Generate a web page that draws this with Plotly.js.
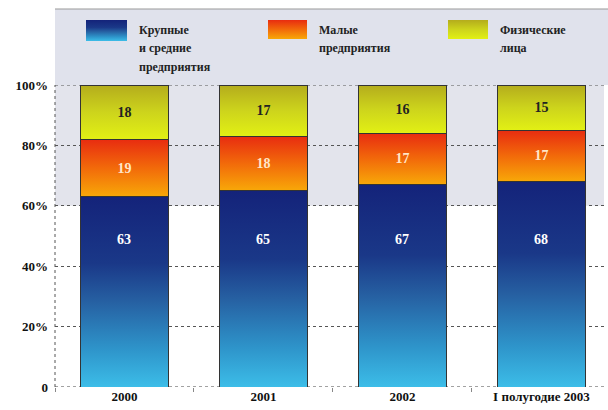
<!DOCTYPE html>
<html>
<head>
<meta charset="utf-8">
<script src="https://cdn.plot.ly/plotly-3.0.1.min.js"></script>
<style>
html,body{margin:0;padding:0;background:#fff;}
#chart{width:608px;height:410px;}
</style>
</head>
<body>
<div id="chart"></div>
<script>
// ---- data ----
const categories = ['2000', '2001', '2002', 'I полугодие 2003'];
const largeMedium = [63, 65, 67, 68];
const small = [19, 18, 17, 17];
const individuals = [18, 17, 16, 15];
const seriesNames = ['Крупные\nи средние\nпредприятия', 'Малые\nпредприятия', 'Физические\nлица'];
const yTickVals = [0, 20, 40, 60, 80, 100];
const yTickText = ['0', '20%', '40%', '60%', '80%', '100%'];

// ---- layout helpers ----
const W = 608, H = 410;
const M = {l: 55, r: 4, t: 85, b: 23};
const pw = W - M.l - M.r, ph = H - M.t - M.b;
const px = x => (x - M.l) / pw;
const py = y => (H - M.b - y) / ph;
const serif = 'Liberation Serif';

function barTrace(vals, name, txtColor, showText) {
  return {
    type: 'bar', x: categories, y: vals, name: name.replace(/\n/g, ' '),
    text: showText ? vals.map(String) : null,
    textposition: showText ? 'inside' : 'none',
    insidetextanchor: 'middle',
    constraintext: 'none',
    textangle: 0,
    textfont: {family: serif, size: 14, color: txtColor, weight: 'bold'},
    marker: {color: '#888', line: {color: '#333', width: 1}},
    hoverinfo: 'skip', showlegend: false
  };
}

const data = [
  barTrace(largeMedium, seriesNames[0], '#fff', false),
  barTrace(small, seriesNames[1], '#ffe6c8', true),
  barTrace(individuals, seriesNames[2], '#222', true)
];

const shapes = [
  {type: 'rect', xref: 'paper', yref: 'y', x0: 0, x1: 1, y0: 60, y1: 100, fillcolor: '#e3e4ec', line: {width: 0}, layer: 'below'},
  {type: 'rect', xref: 'paper', yref: 'paper', x0: 0, x1: px(W + 2), y0: 1, y1: py(9), fillcolor: '#e0e2ec', line: {width: 0}, layer: 'below'},
  {type: 'line', xref: 'paper', yref: 'paper', x0: 0, x1: 0, y0: 0, y1: 1, line: {color: '#555', width: 1, dash: 'dot'}, layer: 'below'},
  {type: 'rect', xref: 'paper', yref: 'paper', x0: px(86), x1: px(127), y0: py(41), y1: py(20), fillcolor: '#2a70b0', line: {width: 0}},
  {type: 'rect', xref: 'paper', yref: 'paper', x0: px(268), x1: px(307), y0: py(39), y1: py(20), fillcolor: '#f06010', line: {width: 0}},
  {type: 'rect', xref: 'paper', yref: 'paper', x0: px(448), x1: px(488), y0: py(39), y1: py(20), fillcolor: '#c8d418', line: {width: 0}},
  {type: 'line', xref: 'paper', yref: 'paper', x0: 0, x1: px(W + 2), y0: py(9), y1: py(9), line: {color: '#999', width: 1}},
  {type: 'line', xref: 'paper', yref: 'y', x0: 0, x1: 1, y0: 0, y1: 0, line: {color: '#444', width: 1, dash: 'dot'}, layer: 'below'},
  {type: 'line', xref: 'paper', yref: 'y', x0: 0, x1: 1, y0: 100, y1: 100, line: {color: '#555', width: 1, dash: 'dot'}, layer: 'below'}
];

const annotations = [];
categories.forEach((c, i) => {
  annotations.push({x: i, y: 49, xref: 'x', yref: 'y', text: String(largeMedium[i]), showarrow: false,
    font: {family: serif, size: 14, color: '#fff', weight: 'bold'}});
});
const legX = [137, 317, 498];
const lineY = [30, 48, 67];
seriesNames.forEach((n, i) => {
  n.split('\n').forEach((ln, j) => {
    annotations.push({x: px(legX[i]), y: py(lineY[j]), xref: 'paper', yref: 'paper', xanchor: 'left', yanchor: 'middle',
      text: ln, showarrow: false, font: {family: serif, size: 12, color: '#222', weight: 'bold'}});
  });
});

const layout = {
  width: W, height: H,
  margin: M,
  font: {family: serif},
  paper_bgcolor: '#ffffff', plot_bgcolor: '#ffffff',
  barmode: 'stack', bargap: 0.367,
  showlegend: false,
  xaxis: {
    type: 'category', range: [-0.5, 3.45],
    tickfont: {family: serif, size: 13, color: '#111', weight: 'bold'},
    ticks: 'outside', tickson: 'boundaries', ticklen: 4, tickcolor: '#888',
    showgrid: false, zeroline: false, showline: false, fixedrange: true
  },
  yaxis: {
    range: [0, 100], tickvals: yTickVals, ticktext: yTickText,
    tickfont: {family: serif, size: 13, color: '#111', weight: 'bold'},
    showgrid: true, gridcolor: '#555', griddash: 'dot', gridwidth: 1,
    zeroline: false, showline: false, ticks: '', ticklabelstandoff: 6, fixedrange: true
  },
  shapes: shapes,
  annotations: annotations
};

const gd = document.getElementById('chart');
Plotly.newPlot(gd, data, layout, {displayModeBar: false, staticPlot: true}).then(() => {
  const svg = gd.querySelector('svg.main-svg');
  const NS = 'http://www.w3.org/2000/svg';
  let defs = svg.querySelector('defs');
  if (!defs) { defs = document.createElementNS(NS, 'defs'); svg.insertBefore(defs, svg.firstChild); }
  const grads = {
    gBlue: [[0, '#14237a'], [0.35, '#1a3888'], [0.55, '#2660a2'], [0.8, '#2e94ca'], [1, '#3cbde8']],
    gOrange: [[0, '#e82c10'], [0.5, '#f26a0a'], [1, '#f8a808']],
    gYellow: [[0, '#b4ac1c'], [0.5, '#cdd41c'], [1, '#e2f014']]
  };
  Object.keys(grads).forEach(id => {
    const lg = document.createElementNS(NS, 'linearGradient');
    lg.setAttribute('id', id);
    lg.setAttribute('x1', '0'); lg.setAttribute('y1', '0');
    lg.setAttribute('x2', '0'); lg.setAttribute('y2', '1');
    grads[id].forEach(s => {
      const st = document.createElementNS(NS, 'stop');
      st.setAttribute('offset', s[0]);
      st.setAttribute('stop-color', s[1]);
      lg.appendChild(st);
    });
    defs.appendChild(lg);
  });
  const ids = ['gBlue', 'gOrange', 'gYellow'];
  gd.querySelectorAll('.barlayer .trace').forEach((t, i) => {
    t.querySelectorAll('.point path').forEach(p => { p.style.fill = 'url(#' + ids[i] + ')'; });
  });
  [3, 4, 5].forEach((idx, i) => {
    gd.querySelectorAll('.shapelayer path[data-index="' + idx + '"]').forEach(p => {
      p.style.fill = 'url(#' + ids[i] + ')';
      p.style.fillOpacity = 1;
    });
  });
});
</script>
</body>
</html>
